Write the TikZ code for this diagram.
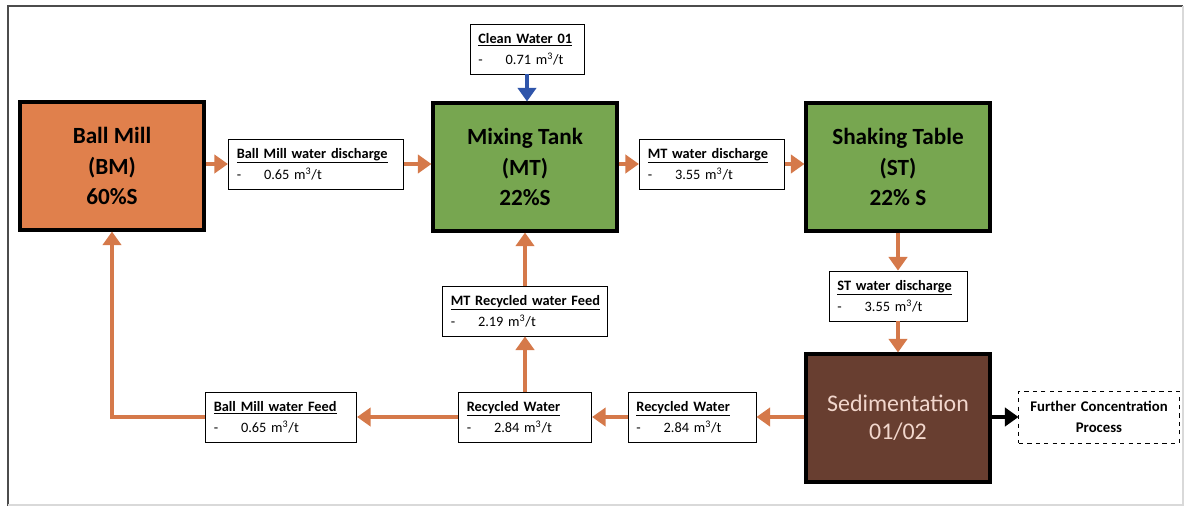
\documentclass[tikz,border=0pt]{standalone}
\usepackage{fontspec}
\setmainfont{Carlito}
\usetikzlibrary{arrows.meta,positioning}

\definecolor{millorange}{RGB}{224,128,76}
\definecolor{tankgreen}{RGB}{119,166,80}
\definecolor{sedbrown}{RGB}{104,62,48}
\definecolor{sedtext}{RGB}{242,215,205}
\definecolor{floworange}{RGB}{213,121,74}
\definecolor{cleanblue}{RGB}{47,85,170}

\newcommand{\flowlabel}[2]{\textbf{\underline{#1}}\\\makebox[1.9em][l]{-}#2 m\textsuperscript{3}/t}

\begin{document}
\begin{tikzpicture}[
        x=0.025cm, y=-0.025cm,
        unit/.style = {
            draw,
            line width=2.2pt,
            minimum width=4.6cm,
            minimum height=3.2cm,
            align=center,
            font=\fontsize{16.5}{21.5}\selectfont\bfseries},
        flowbox/.style = {
            draw,
            line width=0.6pt,
            fill=white,
            minimum height=1.25cm,
            inner xsep=6pt,
            inner ysep=4pt,
            align=left,
            font=\fontsize{10.2}{15}\selectfont},
        flow/.style = {
            draw=floworange,
            line width=2.2pt,
            -{Triangle[length=3.4mm,width=4.6mm]}}
    ]
    \useasboundingbox (0,0) rectangle (1186,508);
    \draw[black!70, line width=1.2pt] (8,506) -- (8,6) -- (1183,6);
    \draw[black!15, line width=0.8pt] (1183,6) -- (1183,505) -- (8,505);

    % process units
    \node[unit, fill=millorange] (bm) at (112,166) {Ball Mill\\(BM)\\60\%S};
    \node[unit, fill=tankgreen] (mt) at (525,167) {Mixing Tank\\(MT)\\22\%S};
    \node[unit, fill=tankgreen] (st) at (898,167) {Shaking Table\\(ST)\\22\% S};
    \node[unit, fill=sedbrown, text=sedtext,
        font=\fontsize{17}{20}\selectfont] (sed) at (898,418) {Sedimentation\\01/02};

    % water streams
    \node[flowbox, text width=2.43cm] (clean) at (527,49) {\flowlabel{Clean Water 01}{0.71}};
    \node[flowbox, text width=3.96cm] (bmout) at (316,164) {\flowlabel{Ball Mill water discharge}{0.65}};
    \node[flowbox, text width=3.21cm] (mtout) at (712,164) {\flowlabel{MT water discharge}{3.55}};
    \node[flowbox, text width=3.03cm] (stout) at (898,296) {\flowlabel{ST water discharge}{3.55}};
    \node[flowbox, text width=3.71cm] (mtrec) at (525,311) {\flowlabel{MT Recycled water Feed}{2.19}};
    \node[flowbox, text width=2.78cm] (rw2) at (692,417) {\flowlabel{Recycled Water}{2.84}};
    \node[flowbox, text width=2.91cm] (rw1) at (525,417) {\flowlabel{Recycled Water}{2.84}};
    \node[flowbox, text width=3.36cm] (bmin) at (281,417) {\flowlabel{Ball Mill water Feed}{0.65}};
    \node[draw, dashed, line width=0.6pt, text width=3.77cm, minimum height=1.3cm,
        align=center, font=\fontsize{10.5}{15}\selectfont\bfseries] (further) at (1099,417)
        {Further Concentration\\Process};

    % connectors
    \draw[flow] (bm.east |- bmout) -- (bmout);
    \draw[flow] (bmout) -- (mt.west |- bmout);
    \draw[flow] (mt.east |- mtout) -- (mtout);
    \draw[flow] (mtout) -- (st.west |- mtout);
    \draw[flow] (st) -- (stout);
    \draw[flow] (stout) -- (sed);
    \draw[flow] (sed.west |- rw2) -- (rw2);
    \draw[flow] (rw2) -- (rw1);
    \draw[flow] (rw1) -- (bmin);
    \draw[flow] (bmin.west) -| (bm.south);
    \draw[flow] (rw1) -- (mtrec);
    \draw[flow] (mtrec) -- (mt);
    \draw[draw=cleanblue, line width=2.2pt, -{Triangle[length=3.4mm,width=4.6mm]}] (clean) -- (mt.north -| clean);
    \draw[line width=2.2pt, -{Triangle[length=3.4mm,width=4.6mm]}] (sed.east |- further) -- (further);
\end{tikzpicture}
\end{document}
